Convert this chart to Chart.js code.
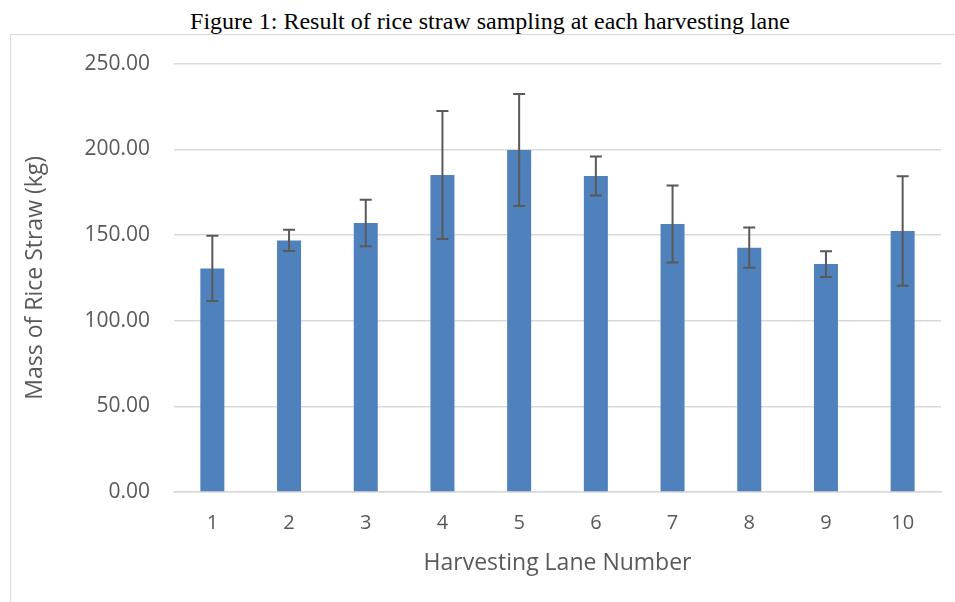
<!DOCTYPE html>
<html>
<head>
<meta charset="utf-8">
<script src="https://cdn.jsdelivr.net/npm/chart.js@4.4.1/dist/chart.umd.min.js"></script>
<style>
  html, body { margin: 0; padding: 0; background: #fff; overflow: hidden; }
  body { width: 955px; height: 602px; position: relative; }
  #fig-title {
    position: absolute; left: 10px; top: 8px; width: 960px;
    text-align: center; font: 24px "Liberation Serif", "Times New Roman", serif; color: #000;
  }
  #frame {
    position: absolute; left: 10px; top: 34px; width: 960px; height: 600px;
    border: 1px solid #d9d9d9; box-sizing: border-box;
  }
  #chart-wrap { position: absolute; left: 0; top: -8px; width: 945px; height: 575px; }
</style>
</head>
<body>
<div id="fig-title">Figure 1: Result of rice straw sampling at each harvesting lane</div>
<div id="frame">
  <div id="chart-wrap"><canvas id="chart"></canvas></div>
</div>
<script>
// --- Data ---
const lanes = ['1', '2', '3', '4', '5', '6', '7', '8', '9', '10'];
const massKg = [130.5, 146.8, 157.0, 185.0, 199.6, 184.4, 156.4, 142.6, 133.0, 152.3];
const errKg = [19.0, 6.2, 13.6, 37.4, 32.7, 11.4, 22.5, 11.8, 7.5, 32.0];
const yTicks = [0, 50, 100, 150, 200, 250];

const textGray = '#595959';
const gridGray = '#d9d9d9';

// error bars drawn from the y scale
const errorBars = {
  id: 'errorBars',
  afterDatasetsDraw(chart) {
    const ctx = chart.ctx;
    const meta = chart.getDatasetMeta(0);
    const yScale = chart.scales.y;
    ctx.save();
    ctx.strokeStyle = textGray;
    ctx.lineWidth = 2;
    meta.data.forEach((bar, i) => {
      const x = bar.x;
      const top = yScale.getPixelForValue(massKg[i] + errKg[i]);
      const bot = yScale.getPixelForValue(massKg[i] - errKg[i]);
      ctx.beginPath();
      ctx.moveTo(x, top); ctx.lineTo(x, bot);
      ctx.moveTo(x - 6, top); ctx.lineTo(x + 6, top);
      ctx.moveTo(x - 6, bot); ctx.lineTo(x + 6, bot);
      ctx.stroke();
    });
    ctx.restore();
  }
};

new Chart(document.getElementById('chart'), {
  type: 'bar',
  data: {
    labels: lanes,
    datasets: [{
      data: massKg,
      backgroundColor: '#4f81bd',
      borderWidth: 0,
      barPercentage: 0.313,
      categoryPercentage: 1.0
    }]
  },
  options: {
    responsive: true,
    maintainAspectRatio: false,
    animation: false,
    layout: { padding: { left: 0, right: 15, top: 0, bottom: 0 } },
    plugins: { legend: { display: false }, tooltip: { enabled: false } },
    scales: {
      x: {
        grid: { display: false },
        border: { display: true, color: gridGray, width: 1.5 },
        ticks: { color: textGray, font: { family: 'Open Sans', size: 20 }, padding: 11 },
        title: {
          display: true, text: 'Harvesting Lane Number', color: textGray,
          font: { family: 'Open Sans', size: 23 }, padding: { top: 0, bottom: 25 }
        },
        afterFit(scale) { scale.height = 110; }
      },
      y: {
        min: 0, max: 250,
        afterBuildTicks(scale) { scale.ticks = yTicks.map(v => ({ value: v })); },
        grid: { color: gridGray, lineWidth: 1.5, drawTicks: false },
        border: { display: false },
        ticks: {
          color: textGray, font: { family: 'Open Sans', size: 21 }, padding: 24,
          callback: v => Number(v).toFixed(2)
        },
        title: {
          display: true, text: 'Mass of Rice Straw (kg)', color: textGray,
          font: { family: 'Open Sans', size: 23 }, padding: { top: 11, bottom: 0 }
        },
        afterFit(scale) { scale.width = 163; }
      }
    }
  },
  plugins: [errorBars]
});
</script>
</body>
</html>
